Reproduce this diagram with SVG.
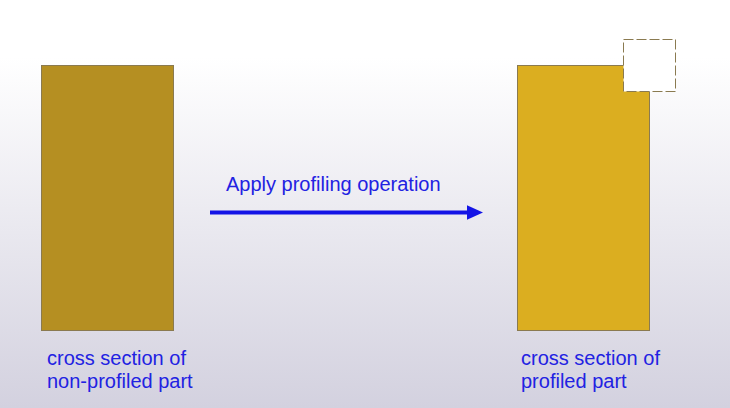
<svg xmlns="http://www.w3.org/2000/svg" width="730" height="408" viewBox="0 0 730 408">
<defs>
<linearGradient id="bg" x1="0" y1="0" x2="0" y2="1">
<stop offset="0" stop-color="#ffffff"/>
<stop offset="0.14" stop-color="#ffffff"/>
<stop offset="1" stop-color="#d3d1df"/>
</linearGradient>
<marker id="ah" markerWidth="4" markerHeight="3.6" refX="0" refY="1.8" orient="auto" markerUnits="strokeWidth">
<path d="M0,0 L4,1.8 L0,3.6 Z" fill="#1414e6"/>
</marker>
<style>
.lbl{font-family:"Liberation Sans",Arial,sans-serif;font-size:20px;fill:#2222e2}
.part{stroke:#8a7a50;stroke-width:1}
</style>
</defs>
<rect x="0" y="0" width="730" height="408" fill="url(#bg)"/>
<g id="non-profiled">
<rect class="part" x="41.5" y="65.5" width="132" height="265" fill="#b58f22"/>
<text class="lbl" x="47" y="365">cross section of</text>
<text class="lbl" x="47" y="388">non-profiled part</text>
</g>
<g id="profiled">
<rect class="part" x="517.5" y="65.5" width="132" height="265" fill="#dbae20"/>
<rect x="623.5" y="39.5" width="52" height="52" fill="#ffffff" stroke="#8a7a50" stroke-width="1" stroke-dasharray="10,3"/>
<text class="lbl" x="521" y="365">cross section of</text>
<text class="lbl" x="521" y="388">profiled part</text>
</g>
<g id="connectors">
<line x1="210" y1="212.5" x2="467" y2="212.5" stroke="#1414e6" stroke-width="4" marker-end="url(#ah)"/>
<text class="lbl" x="226" y="191">Apply profiling operation</text>
</g>
</svg>
